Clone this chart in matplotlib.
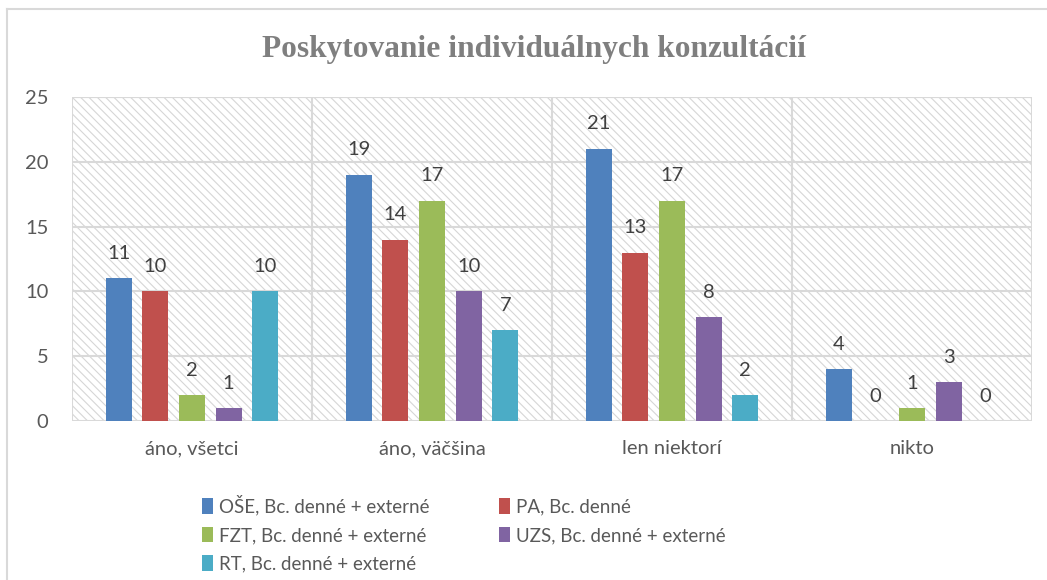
import numpy as np
import matplotlib.pyplot as plt
from matplotlib.patches import Rectangle
from matplotlib.lines import Line2D

categories = ["áno, všetci", "áno, väčšina", "len niektorí", "nikto"]
series_names = [
    "OŠE, Bc. denné + externé",
    "PA, Bc. denné",
    "FZT, Bc. denné + externé",
    "UZS, Bc. denné + externé",
    "RT, Bc. denné + externé",
]
ose = [11, 19, 21, 4]
pa = [10, 14, 13, 0]
fzt = [2, 17, 17, 1]
uzs = [1, 10, 8, 3]
rt = [10, 7, 2, 0]
colors = ["#4F81BD", "#C0504D", "#9BBB59", "#8064A2", "#4BACC6"]

plt.rcParams["font.family"] = ["Lato", "DejaVu Sans"]
plt.rcParams["hatch.linewidth"] = 0.8

fig = plt.figure(figsize=(10.47, 5.8), dpi=100)
ax = fig.add_axes([72 / 1047, 1 - 421 / 580, 960 / 1047, 324 / 580])

# hatched plot area
bg = Rectangle((0, 0), 1, 1, transform=ax.transAxes, facecolor="white",
               edgecolor="#d6d6d6", hatch="\\\\\\\\", linewidth=0, zorder=0)
ax.add_patch(bg)
border = Rectangle((0, 0), 1, 1, transform=ax.transAxes, facecolor="none",
                   edgecolor="#d9d9d9", linewidth=1.5, zorder=1)
ax.add_patch(border)
ax.set_facecolor("none")

x = np.arange(len(categories))
width = 0.108
pitch = 0.1525
handles = []
for i, (vals, name, c) in enumerate(zip([ose, pa, fzt, uzs, rt], series_names, colors)):
    pos = x + (i - 2) * pitch
    b = ax.bar(pos, vals, width, color=c, label=name, zorder=3)
    handles.append(b)
    for px, v in zip(pos, vals):
        ax.annotate(str(v), (px, v), xytext=(0, 18), textcoords="offset points",
                    ha="center", va="center", fontsize=14.5, color="#404040", zorder=4)

ax.set_xlim(-0.5, 3.5)
ax.set_ylim(0, 25)
ax.set_yticks([0, 5, 10, 15, 20, 25])
for yv in [5, 10, 15, 20, 25]:
    ax.axhline(yv, color="#d9d9d9", lw=1.5, zorder=1)
for xv in [0.5, 1.5, 2.5]:
    ax.axvline(xv, color="#d9d9d9", lw=1.5, zorder=1)
ax.set_xticks(x)
ax.set_xticklabels(categories)
ax.tick_params(axis="both", length=0, labelsize=14.5, labelcolor="#595959")
ax.tick_params(axis="x", pad=14)
ax.tick_params(axis="y", pad=17)
for s in ax.spines.values():
    s.set_visible(False)

fig.text(534 / 1047, 1 - 57 / 580, "Poskytovanie individuálnych konzultácií",
         ha="center", va="baseline", fontsize=22.6, fontweight="bold",
         color="#7f7f7f", family="Liberation Serif")

order = [0, 2, 4, 1, 3]
leg = fig.legend([handles[i] for i in order], [series_names[i] for i in order],
                 ncol=2, loc="upper left", bbox_to_anchor=(202 / 1047, 1 - 495 / 580),
                 frameon=False, fontsize=13.5, handlelength=0.6, handleheight=0.9,
                 handletextpad=0.3, columnspacing=3.7, labelspacing=0.6,
                 borderaxespad=0, borderpad=0)
for t in leg.get_texts():
    t.set_color("#595959")

# outer chart border
fig.add_artist(Line2D([7 / 1047, 7 / 1047], [0, 1 - 9 / 580], color="#d9d9d9", lw=1.5,
                      transform=fig.transFigure))
fig.add_artist(Line2D([7 / 1047, 1], [1 - 9 / 580, 1 - 9 / 580], color="#d9d9d9", lw=1.5,
                      transform=fig.transFigure))

fig.savefig("out.png", dpi=100)
